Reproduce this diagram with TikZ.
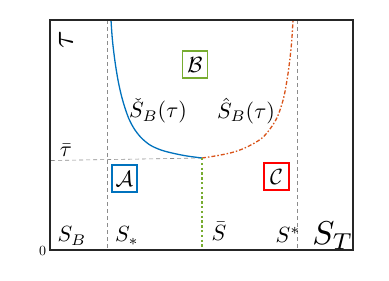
\documentclass[tikz,border=0pt]{standalone}
\usepackage{amsmath}
\begin{document}
\begin{tikzpicture}[x=1pt,y=-1pt,
  axisline/.style={draw={rgb,255:red,38;green,38;blue,38},line width=1.3pt},
  guide/.style={draw={rgb,255:red,140;green,140;blue,140},dash pattern=on 4pt off 3pt,line width=0.6pt},
  lbl/.style={inner sep=0pt},
  regbox/.style={draw,line width=1.2pt,minimum width=25pt,minimum height=27pt,inner sep=1pt}]
\definecolor{mblue}{RGB}{0,114,189}
\definecolor{morange}{RGB}{217,83,25}
\definecolor{mgreen}{RGB}{119,172,48}
\newcommand{\mylbl}[1]{\scalebox{2.2}{#1}}
\useasboundingbox (0,0) rectangle (389,281);
\coordinate (tl) at (50,20);
\coordinate (br) at (353,250);
\coordinate (p) at (202,158);
\coordinate (vlt) at (107,20);
\coordinate (vlb) at (107,250);
\coordinate (vrt) at (297,20);
\coordinate (vrb) at (297,250);
\coordinate (taxis) at (51,160.5);
\coordinate (pb) at (202,250);
% guides
\draw[guide] (vlt) -- (vlb);
\draw[guide] (vrt) -- (vrb);
\draw[guide] (p) -- (taxis);
% curves
\draw[mblue,line width=1.3pt] plot[smooth,tension=0.55] coordinates {(111,20) (112,35) (113.3,48.3) (115.5,65) (118.3,81.7) (121.5,96) (125,108) (129,119) (134,128.5) (141,137.5) (150,145) (161,150) (173.3,153.3) (187,156) (202,158)};
\draw[morange,line width=1.3pt,dash pattern=on 4pt off 2pt on 1.5pt off 2pt] plot[smooth,tension=0.55] coordinates {(202,158) (218,155.5) (235,151.7) (249,146) (261.7,138.3) (270,129) (276.7,118.3) (281,107) (284.3,95) (287.5,77) (290,58.3) (291.8,40) (293,20)};
\draw[mgreen,line width=2.4pt,dash pattern=on 2.4pt off 2.4pt] (p) -- (pb);
% axes box
\draw[axisline] (tl) rectangle (br);
% labels
\node[lbl,rotate=90] (tau) at (66,40) {\scalebox{3.2}{$\tau$}};
\node[lbl] (taubar) at (66,150) {\mylbl{$\bar{\tau}$}};
\node[lbl] (SB) at (72,236) {\mylbl{$S_B$}};
\node[lbl] (Sst) at (127,236) {\mylbl{$S_*$}};
\node[lbl] (Sbar) at (219,231) {\mylbl{$\bar{S}$}};
\node[lbl] (Ssup) at (288,235) {\mylbl{$S^*$}};
\node[lbl] (ST) at (333,236) {\scalebox{3.3}{$S_T$}};
\node[lbl] (zero) at (42.5,250.5) {\scalebox{1.4}{$0$}};
\node[lbl] (chk) at (158,111) {\mylbl{$\check{S}_B(\tau)$}};
\node[lbl] (hat) at (246,111) {\mylbl{$\hat{S}_B(\tau)$}};
\node[regbox,draw=mgreen] (B) at (195,64.5) {\mylbl{$\mathcal{B}$}};
\node[regbox,draw=mblue] (A) at (124.5,178.5) {\mylbl{$\mathcal{A}$}};
\node[regbox,draw=red] (C) at (276.5,176.5) {\mylbl{$\mathcal{C}$}};
\end{tikzpicture}
\end{document}
